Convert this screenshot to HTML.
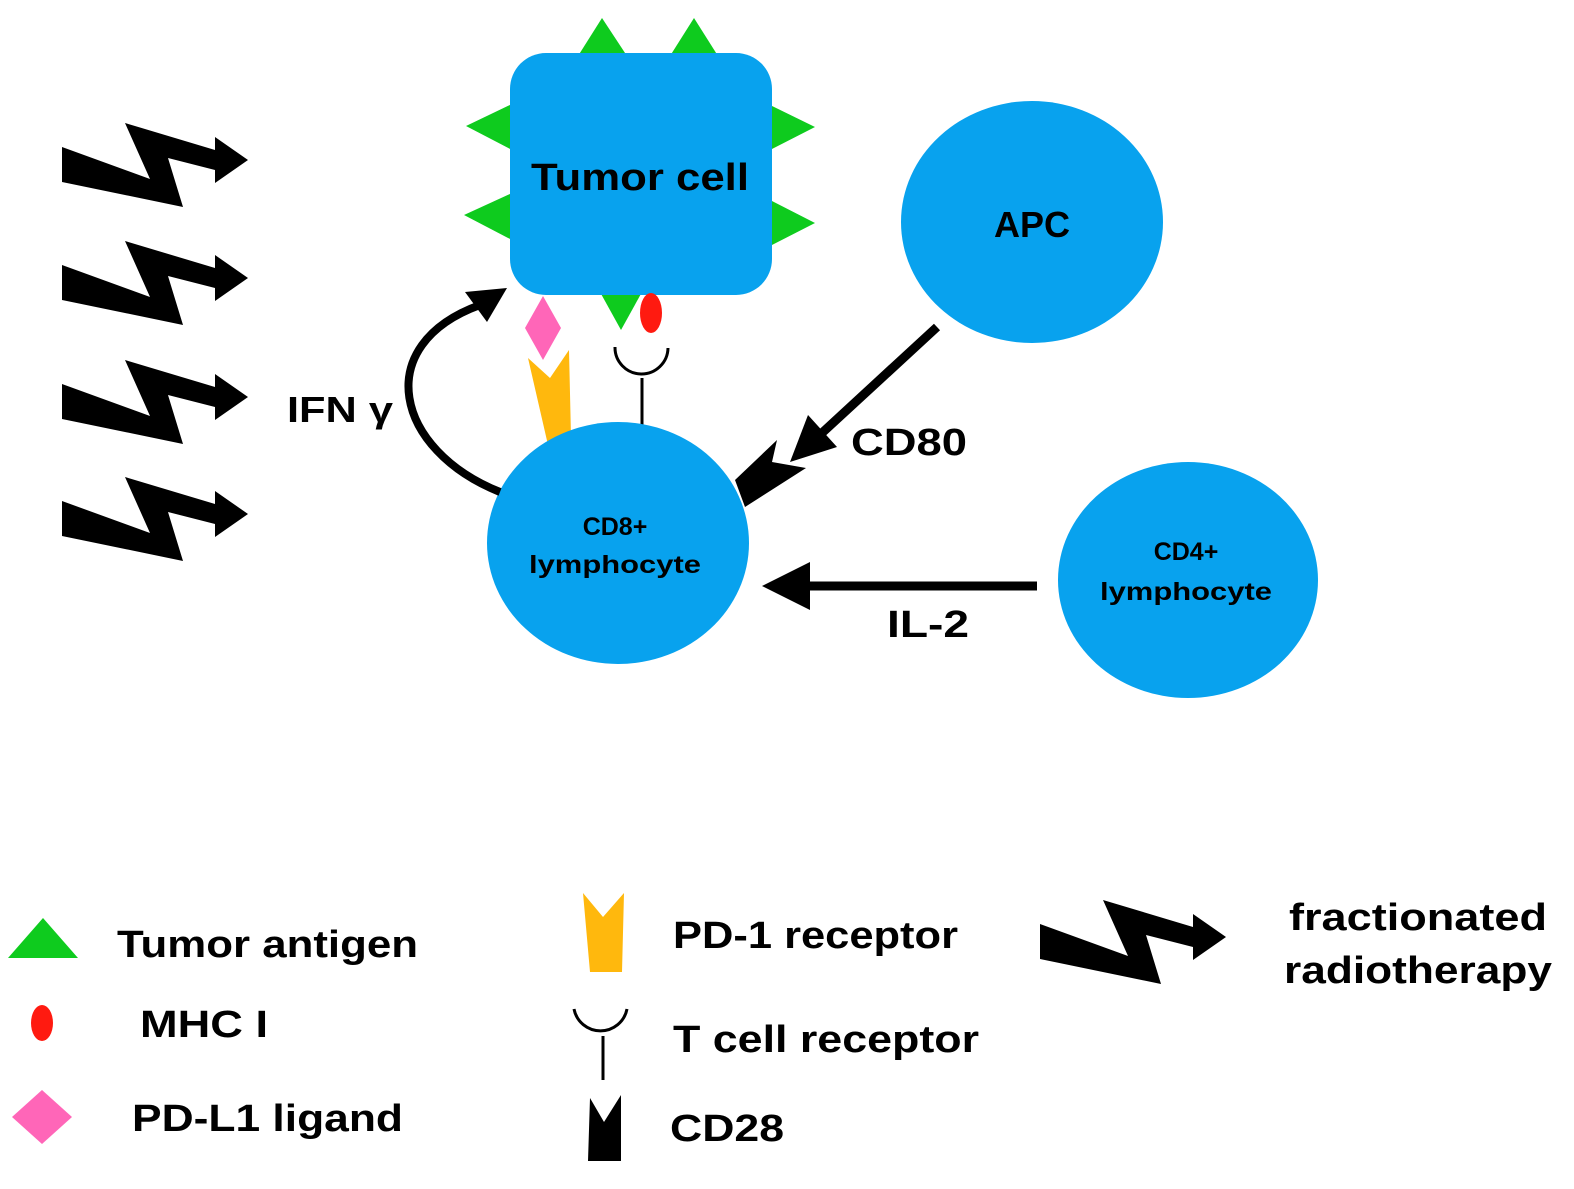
<!DOCTYPE html>
<html><head><meta charset="utf-8"><style>
html,body{margin:0;padding:0;background:#fff;}
svg{display:block;}
text{font-family:"Liberation Sans",Arial,sans-serif;font-weight:bold;fill:#000;}
</style></head><body>
<svg width="1574" height="1189" viewBox="0 0 1574 1189" xmlns="http://www.w3.org/2000/svg">
<defs>
<polygon id="bolt" points="62,147 150,179 125,123 215,150 215,137 248,160 215,183 215,170 168,158 183,207 62,182" fill="#000"/>
</defs>
<!-- bolts -->
<use href="#bolt"/>
<use href="#bolt" transform="translate(0,118)"/>
<use href="#bolt" transform="translate(0,237)"/>
<use href="#bolt" transform="translate(0,354)"/>

<!-- tumor antigens -->
<g fill="#0ecb1e">
<polygon points="578,56 602,18 627,56"/>
<polygon points="670,56 694,18 718,56"/>
<polygon points="512,104 466,126 512,150"/>
<polygon points="512,193 464,215 512,240"/>
<polygon points="770,105 815,127 770,150"/>
<polygon points="770,200 815,223 770,246"/>
<polygon points="600,292 621,330 642,292"/>
</g>
<rect x="510" y="53" width="262" height="242" rx="36" fill="#08a2ee"/>
<text x="640" y="190" font-size="38" text-anchor="middle" textLength="218" lengthAdjust="spacingAndGlyphs">Tumor cell</text>

<!-- PD-L1, MHC -->
<polygon points="543,296 561,328 543,360 525,328" fill="#ff66b8"/>
<ellipse cx="651" cy="313" rx="11" ry="20" fill="#ff1a10"/>
<!-- PD-1 -->
<polygon points="528,358 550,378 569,350 571,437 548,445" fill="#ffb80d"/>
<!-- TCR -->
<path d="M615,347 A26,26 0 0 0 668,348" fill="none" stroke="#000" stroke-width="3"/>
<line x1="642" y1="378" x2="642" y2="425" stroke="#000" stroke-width="3"/>

<!-- APC -->
<ellipse cx="1032" cy="222" rx="131" ry="121" fill="#08a2ee"/>
<text x="1032" y="237" font-size="36" text-anchor="middle">APC</text>

<!-- CD8 -->
<ellipse cx="618" cy="543" rx="131" ry="121" fill="#08a2ee"/>
<text x="615" y="535" font-size="25" text-anchor="middle">CD8+</text>
<text x="615" y="573" font-size="25" text-anchor="middle" textLength="172" lengthAdjust="spacingAndGlyphs">lymphocyte</text>

<!-- CD4 -->
<ellipse cx="1188" cy="580" rx="130" ry="118" fill="#08a2ee"/>
<text x="1186" y="560" font-size="25" text-anchor="middle">CD4+</text>
<text x="1186" y="600" font-size="25" text-anchor="middle" textLength="172" lengthAdjust="spacingAndGlyphs">lymphocyte</text>

<!-- IFN arrow -->
<path d="M500,492 C395,450 370,345 480,305" fill="none" stroke="#000" stroke-width="8"/>
<polygon points="507,288 465,292 487,322" fill="#000"/>
<text x="287" y="422" font-size="36" textLength="106" lengthAdjust="spacingAndGlyphs">IFN γ</text>

<!-- APC arrow -->
<line x1="937" y1="327" x2="810" y2="444" stroke="#000" stroke-width="9"/>
<polygon points="790,462 808,415 837,447" fill="#000"/>
<polygon points="777,440 772,462 806,468 745,507 735,480" fill="#000"/>
<text x="851" y="455" font-size="38" textLength="116" lengthAdjust="spacingAndGlyphs">CD80</text>

<!-- IL-2 arrow -->
<line x1="1037" y1="586" x2="800" y2="586" stroke="#000" stroke-width="9"/>
<polygon points="762,586 810,562 810,610" fill="#000"/>
<text x="887" y="637" font-size="38" textLength="82" lengthAdjust="spacingAndGlyphs">IL-2</text>

<!-- Legend -->
<polygon points="8,958 43,918 78,958" fill="#0ecb1e"/>
<text x="117" y="957" font-size="38" textLength="301" lengthAdjust="spacingAndGlyphs">Tumor antigen</text>
<ellipse cx="42" cy="1023" rx="11" ry="18" fill="#ff1a10"/>
<text x="140" y="1037" font-size="38" textLength="128" lengthAdjust="spacingAndGlyphs">MHC I</text>
<polygon points="42,1090 72,1117 42,1144 12,1117" fill="#ff66b8"/>
<text x="132" y="1131" font-size="38" textLength="271" lengthAdjust="spacingAndGlyphs">PD-L1 ligand</text>

<polygon points="583,893 603,917 624,893 622,972 590,972" fill="#ffb80d"/>
<text x="673" y="948" font-size="38" textLength="285" lengthAdjust="spacingAndGlyphs">PD-1 receptor</text>
<path d="M574,1009 A27,27 0 0 0 627,1009" fill="none" stroke="#000" stroke-width="3"/>
<line x1="603" y1="1036" x2="603" y2="1080" stroke="#000" stroke-width="3"/>
<text x="673" y="1052" font-size="38" textLength="306" lengthAdjust="spacingAndGlyphs">T cell receptor</text>
<polygon points="590,1098 604,1122 621,1095 621,1161 588,1161" fill="#000"/>
<text x="670" y="1141" font-size="38" textLength="114" lengthAdjust="spacingAndGlyphs">CD28</text>

<use href="#bolt" transform="translate(978,777)"/>
<text x="1418" y="930" font-size="38" text-anchor="middle" textLength="258" lengthAdjust="spacingAndGlyphs">fractionated</text>
<text x="1418" y="983" font-size="38" text-anchor="middle" textLength="268" lengthAdjust="spacingAndGlyphs">radiotherapy</text>
</svg>
</body></html>
